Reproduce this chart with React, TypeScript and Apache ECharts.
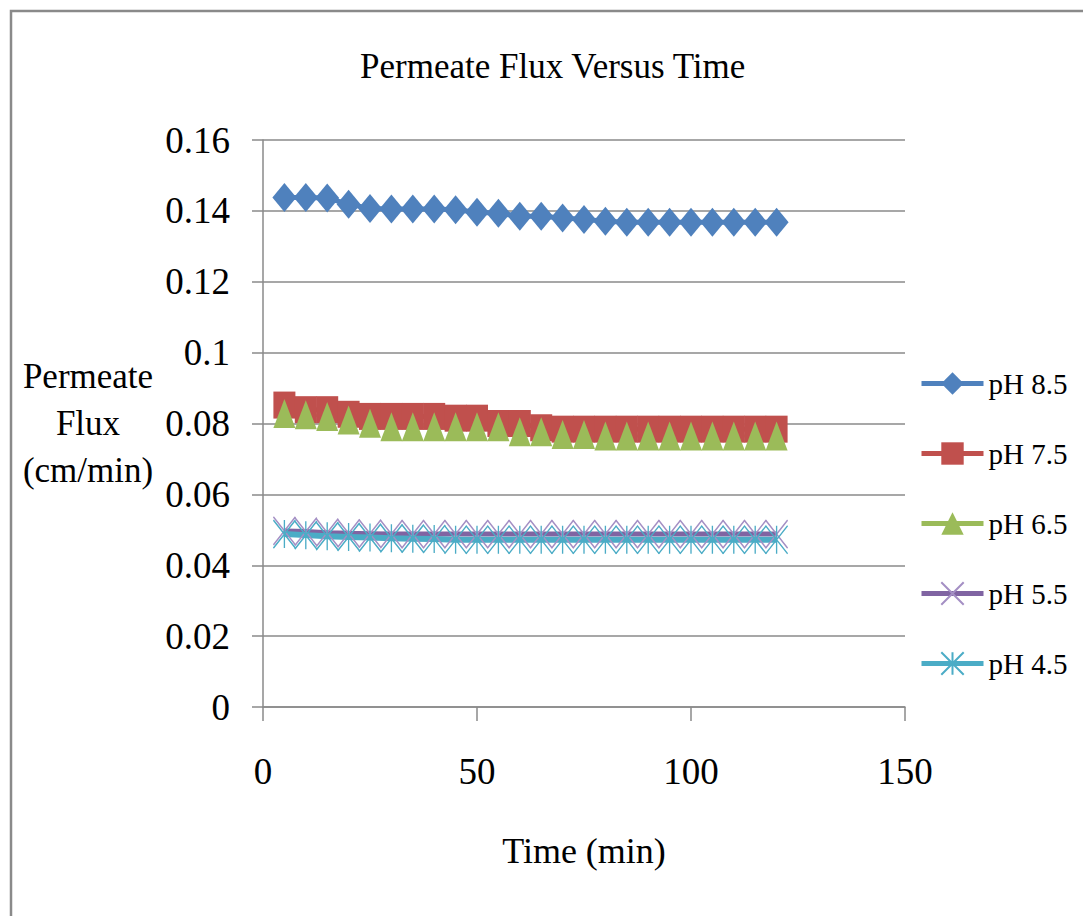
import React, { useEffect, useRef } from "react";
import * as echarts from "echarts";

const times = [5, 10, 15, 20, 25, 30, 35, 40, 45, 50, 55, 60, 65, 70, 75, 80, 85, 90, 95, 100, 105, 110, 115, 120];

const ph85 = [0.1438, 0.1438, 0.1436, 0.1419, 0.1407, 0.1405, 0.1405, 0.1405, 0.1403, 0.1396, 0.1393, 0.1385, 0.1385, 0.138, 0.1376, 0.1371, 0.1368, 0.1368, 0.1368, 0.1368, 0.1368, 0.1368, 0.1368, 0.1368];
const ph75 = [0.0852, 0.0839, 0.0839, 0.0826, 0.082, 0.082, 0.082, 0.082, 0.0815, 0.0815, 0.08, 0.08, 0.0788, 0.0784, 0.0784, 0.0784, 0.0784, 0.0784, 0.0784, 0.0784, 0.0784, 0.0784, 0.0784, 0.0784];
const ph65 = [0.0828, 0.0825, 0.082, 0.081, 0.0801, 0.0791, 0.0791, 0.0791, 0.0791, 0.0791, 0.0791, 0.0777, 0.0777, 0.0769, 0.0769, 0.0765, 0.0765, 0.0765, 0.0765, 0.0765, 0.0765, 0.0765, 0.0765, 0.0765];
const ph55 = [0.0497, 0.0495, 0.0492, 0.049, 0.0489, 0.0488, 0.0488, 0.0488, 0.0488, 0.0488, 0.0488, 0.0488, 0.0488, 0.0488, 0.0488, 0.0488, 0.0488, 0.0488, 0.0488, 0.0488, 0.0488, 0.0488, 0.0488, 0.0488];
const ph45 = [0.0488, 0.0485, 0.0482, 0.048, 0.0478, 0.0476, 0.0475, 0.0474, 0.0472, 0.0472, 0.0472, 0.0472, 0.0472, 0.0472, 0.0472, 0.0472, 0.0472, 0.0472, 0.0472, 0.0472, 0.0472, 0.0472, 0.0472, 0.0472];

const seriesNames = ["pH 8.5", "pH 7.5", "pH 6.5", "pH 5.5", "pH 4.5"];
const titleText = "Permeate Flux Versus Time";
const xName = "Time (min)";
const yName = "Permeate\nFlux\n(cm/min)";

const FONT = "'Liberation Serif', 'Times New Roman', serif";

function pairs(vals: number[]) {
  return times.map((t, i) => [t, vals[i]]);
}

export default function App() {
  const ref = useRef<HTMLDivElement>(null);
  useEffect(() => {
    document.body.style.margin = "0";
    const chart = echarts.init(ref.current!, null, { renderer: "svg" });
    const xPath = "path://M0,0L10,10M10,0L0,10";
    const starPath = "path://M0,0L10,10M10,0L0,10M5,0L5,10";
    chart.setOption({
      animation: false,
      backgroundColor: "#ffffff",
      textStyle: { fontFamily: FONT },
      title: {
        text: titleText,
        left: 355,
        top: 44,
        textStyle: { fontFamily: FONT, fontSize: 35, fontWeight: "normal", color: "#000" },
      },
      graphic: [
        {
          type: "rect",
          shape: { x: 11, y: 11, width: 1300, height: 1300 },
          style: { fill: "none", stroke: "#8a8a8a", lineWidth: 2.5 },
          silent: true,
        },
      ],
      grid: { left: 263, right: 178, top: 140, bottom: 209, containLabel: false },
      legend: {
        orient: "vertical",
        left: 914,
        top: 364,
        itemWidth: 62,
        itemHeight: 28,
        itemGap: 41,
        data: seriesNames,
        textStyle: { fontFamily: FONT, fontSize: 29, color: "#000" },
        lineStyle: { width: 5 },
      },
      xAxis: {
        type: "value",
        min: 0,
        max: 150,
        interval: 50,
        name: xName,
        nameLocation: "middle",
        nameGap: 126,
        nameTextStyle: { fontFamily: FONT, fontSize: 36, color: "#000" },
        axisLine: { show: true, lineStyle: { color: "#8a8a8a", width: 1.5 } },
        axisTick: { show: true, length: 14, lineStyle: { color: "#8a8a8a", width: 1.5 } },
        axisLabel: { fontFamily: FONT, fontSize: 37, color: "#000", margin: 46 },
        splitLine: { show: false },
      },
      yAxis: {
        type: "value",
        min: 0,
        max: 0.16,
        interval: 0.02,
        name: yName,
        nameLocation: "middle",
        nameGap: 175,
        nameRotate: 0,
        nameTextStyle: { fontFamily: FONT, fontSize: 35, color: "#000", align: "center", lineHeight: 47 },
        axisLine: { show: true, lineStyle: { color: "#8a8a8a", width: 1.5 } },
        axisTick: { show: true, length: 11, lineStyle: { color: "#8a8a8a", width: 1.5 } },
        axisLabel: { fontFamily: FONT, fontSize: 37, color: "#000", margin: 33 },
        splitLine: { show: true, lineStyle: { color: "#8a8a8a", width: 1.5 } },
      },
      series: [
        {
          name: seriesNames[0],
          type: "line",
          data: pairs(ph85),
          symbol: "diamond",
          symbolSize: [24, 29],
          itemStyle: { color: "#4f81bd" },
          lineStyle: { color: "#4f81bd", width: 5 },
        },
        {
          name: seriesNames[1],
          type: "line",
          data: pairs(ph75),
          symbol: "rect",
          symbolSize: [22, 27],
          itemStyle: { color: "#c0504d" },
          lineStyle: { color: "#c0504d", width: 5 },
        },
        {
          name: seriesNames[2],
          type: "line",
          data: pairs(ph65),
          symbol: "triangle",
          symbolSize: [22, 29],
          itemStyle: { color: "#9bbb59" },
          lineStyle: { color: "#9bbb59", width: 3 },
        },
        {
          name: seriesNames[3],
          type: "line",
          data: pairs(ph55),
          symbol: xPath,
          symbolSize: [22, 28],
          symbolKeepAspect: false,
          itemStyle: { color: "rgba(0,0,0,0)", borderColor: "#a48fc4", borderWidth: 1.5 },
          lineStyle: { color: "#8064a2", width: 5 },
        },
        {
          name: seriesNames[4],
          type: "line",
          data: pairs(ph45),
          symbol: starPath,
          symbolSize: [22, 28],
          symbolKeepAspect: false,
          itemStyle: { color: "rgba(0,0,0,0)", borderColor: "#4bacc6", borderWidth: 1.5 },
          lineStyle: { color: "#4bacc6", width: 6 },
        },
      ],
    });
    return () => chart.dispose();
  }, []);
  return <div ref={ref} style={{ width: 1083, height: 916 }} />;
}
